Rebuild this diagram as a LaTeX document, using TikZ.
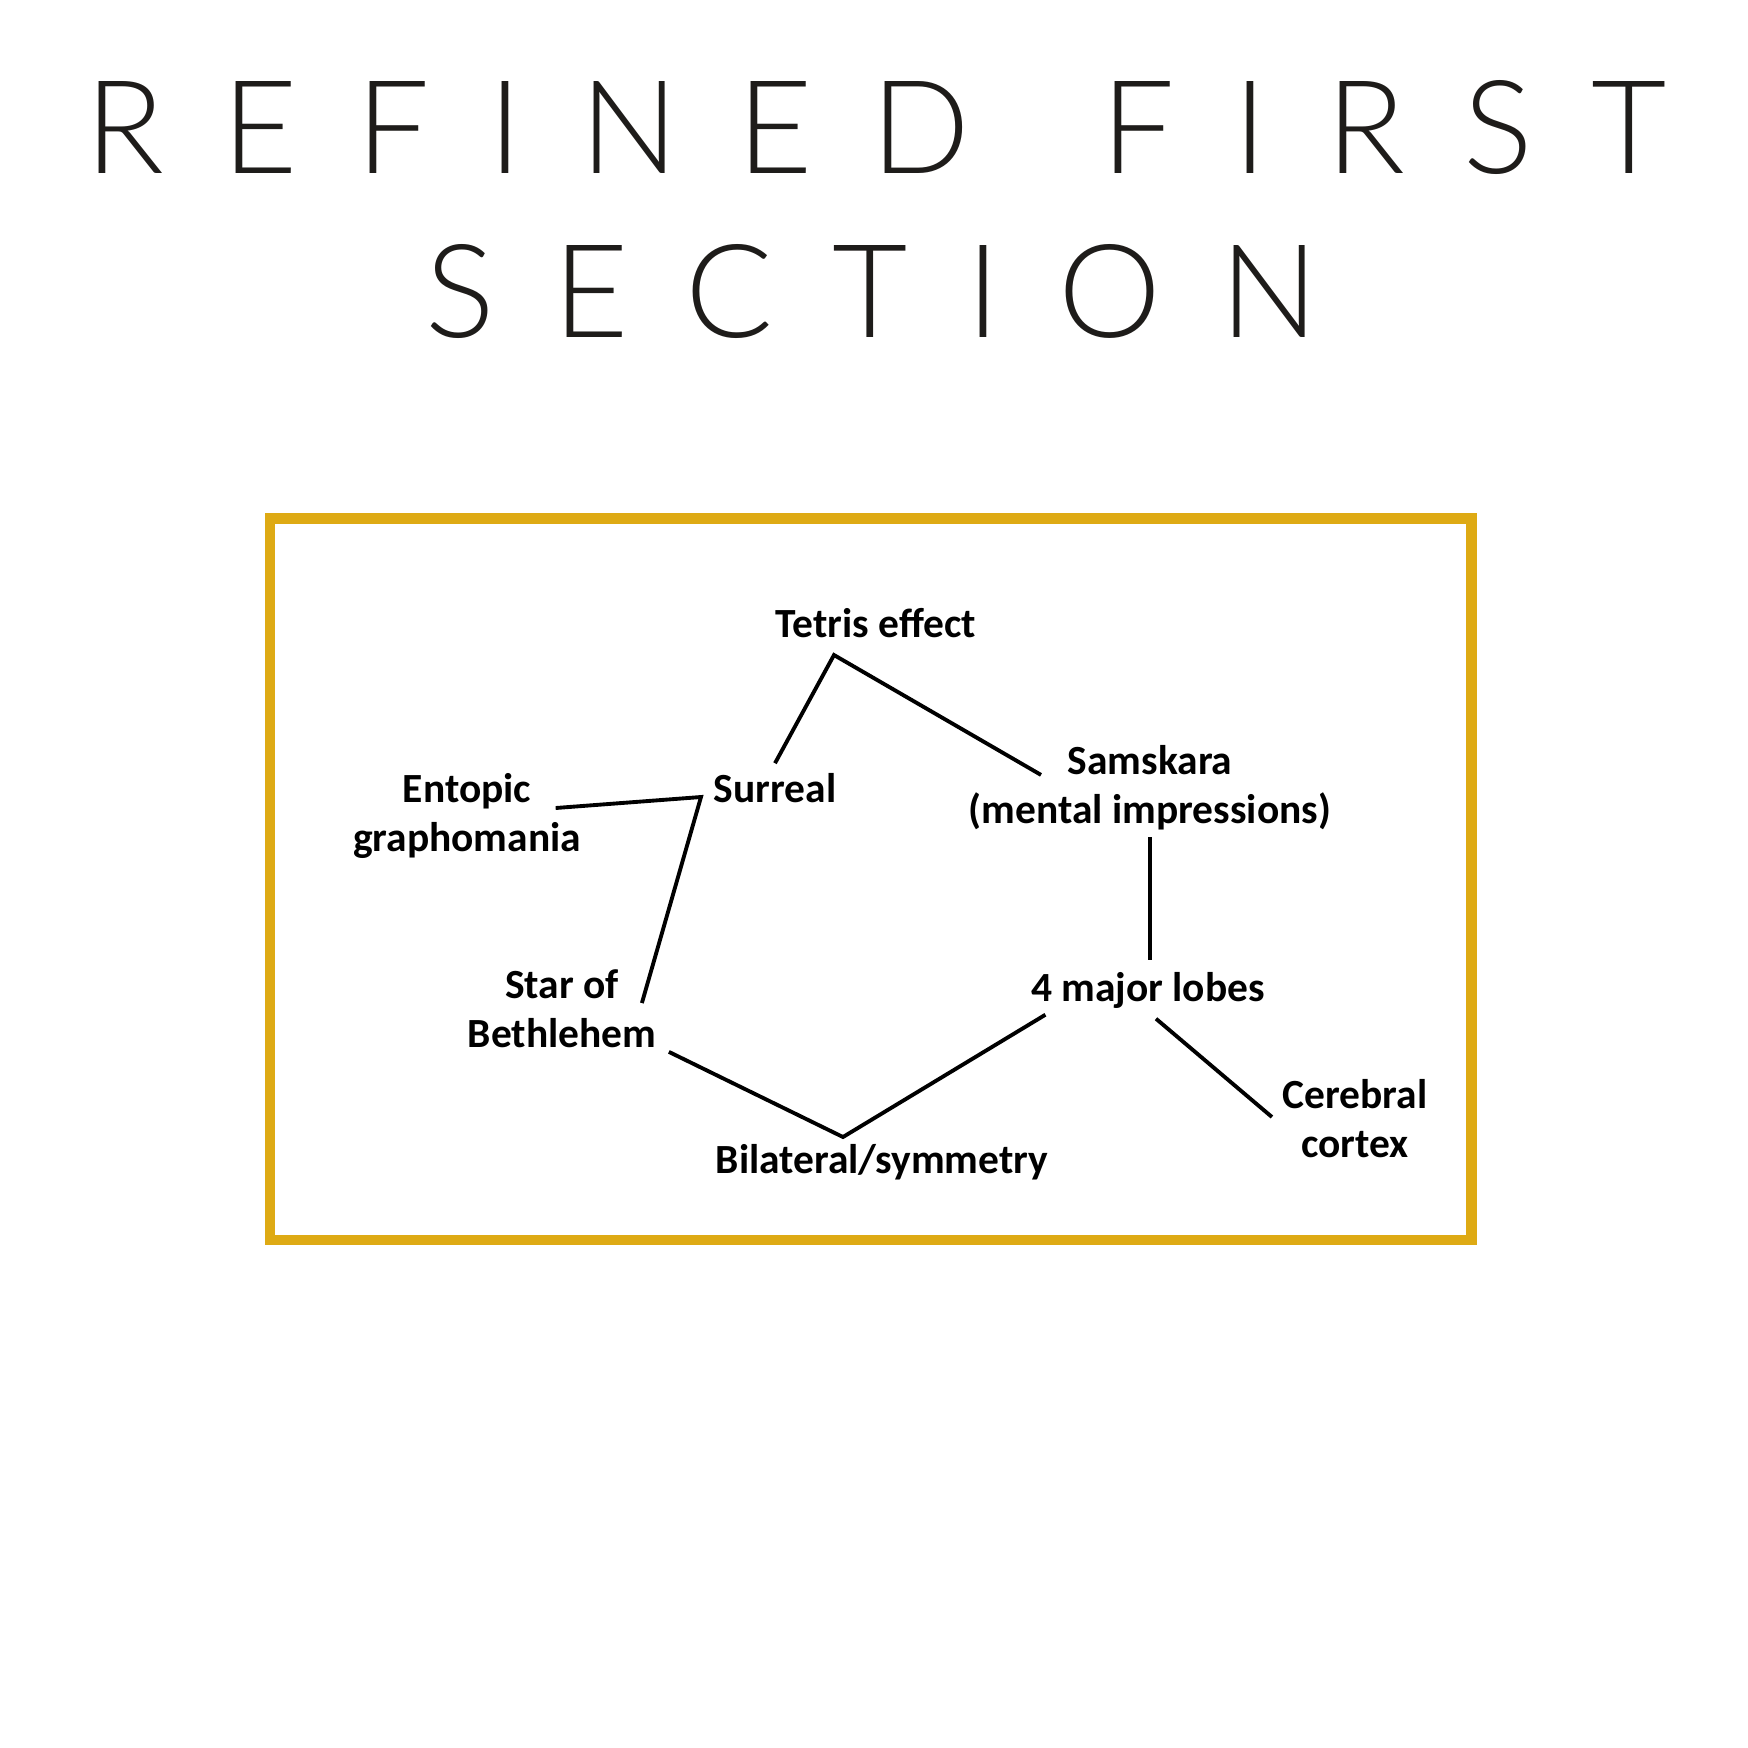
\documentclass[tikz,border=0pt]{standalone}
\usepackage{fontspec}
\setmainfont{Carlito}
\newfontfamily\titlefont{Lato Light}[LetterSpace=45, WordSpace=1.4]
\usepackage{xcolor}
\usetikzlibrary{positioning}
\definecolor{frameGold}{RGB}{222,170,20}
\definecolor{titleInk}{RGB}{30,28,26}

\begin{document}
\begin{tikzpicture}[
    % Styles
    heading/.style={font=\titlefont\fontsize{37}{44}\selectfont, text=titleInk, inner sep=0pt},
    term/.style={font=\bfseries\fontsize{11.8}{14}\selectfont, align=center, inner sep=0pt},
    frame/.style={draw=frameGold, line width=2.9pt},
    link/.style={-, line width=1.1pt, draw=black}
]
\useasboundingbox (0,0) rectangle (17.48,-17.48);

% --- Title ---
\node[heading, anchor=base] (title_a) at (8.76,-1.73) {REFINED FIRST};
\node[heading, anchor=base] (title_b) at (8.72,-3.37) {SECTION};

% --- Frame ---
\draw[frame] (2.70,-5.185) rectangle (14.715,-12.40);

% --- Terms ---
\node[term, anchor=base] (tetris) at (8.76,-6.37) {Tetris effect};
\node[term, anchor=base] (surreal) at (7.75,-8.02) {Surreal};
\node[term] (entopic) at (4.67,-8.16) {Entopic\\graphomania};
\node[term] (samskara) at (11.50,-7.88) {Samskara\\(mental impressions)};
\node[term] (star) at (5.62,-10.09) {Star of\\Bethlehem};
\node[term, anchor=base] (lobes) at (11.48,-10.01) {4 major lobes};
\node[term] (cerebral) at (13.55,-11.185) {Cerebral\\cortex};
\node[term, anchor=base] (bilateral) at (8.82,-11.73) {Bilateral/symmetry};

% bend points
\coordinate (peak) at (8.34,-6.55);
\coordinate (kink) at (7.01,-7.97);
\coordinate (dip) at (8.43,-11.37);

% --- Connections ---
\draw[link] ([yshift=0.09cm]surreal.north) -- (peak) -- ([xshift=-1.09cm,yshift=-0.30cm]samskara.north);
\draw[link] ([xshift=-0.26cm,yshift=0.08cm]entopic.east) -- (kink) -- ([xshift=-0.15cm,yshift=0.06cm]star.east);
\draw[link] ([xshift=0.12cm,yshift=-0.03cm]star.south east) -- (dip) -- ([xshift=0.15cm,yshift=-0.06cm]lobes.south west);
\draw[link] ([yshift=-0.06cm]samskara.south) -- ([yshift=0.11cm]samskara.south |- lobes.north);
\draw[link] ([xshift=0.08cm,yshift=-0.10cm]lobes.south) -- ([xshift=-0.10cm,yshift=0.015cm]cerebral.west);

\end{tikzpicture}
\end{document}
